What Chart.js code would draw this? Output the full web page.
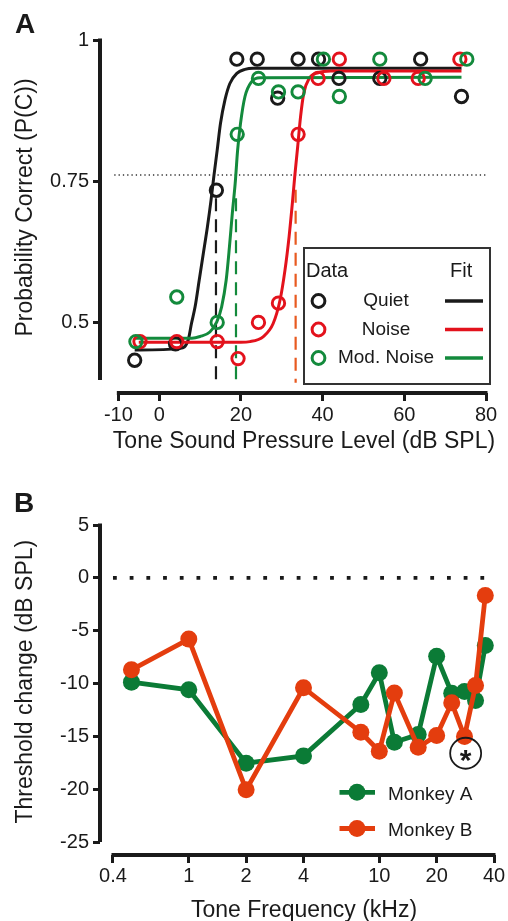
<!DOCTYPE html>
<html lang="en">
<head>
<meta charset="UTF-8">
<title>Tone detection in quiet and noise</title>
<script src="https://cdn.jsdelivr.net/npm/chart.js@4"></script>
<style>
  html, body { margin: 0; padding: 0; background: #fff; }
  #wrap { position: relative; width: 508px; height: 921px; overflow: hidden; }
  canvas { position: absolute; left: 0; }
  #chartA { top: 0; }
  #chartB { top: 460px; }
</style>
</head>
<body>
<div id="wrap">
  <canvas id="chartA" width="508" height="460"></canvas>
  <canvas id="chartB" width="508" height="461"></canvas>
</div>
<script>
// ---------- Panel A: psychometric data (tone level in dB SPL vs P(C)) ----------
const quietX = [-6, 4, 14, 19, 24, 29, 34, 39, 44, 54, 64, 74];
const quietP = [0.433, 0.462, 0.734, 0.966, 0.966, 0.897, 0.966, 0.966, 0.932, 0.932, 0.966, 0.9];
const noiseX = [-4.7, 4.3, 14.2, 19.3, 24.3, 29.2, 34, 38.9, 44.1, 55, 63.4, 73.6];
const noiseP = [0.466, 0.466, 0.466, 0.436, 0.5, 0.534, 0.833, 0.932, 0.966, 0.932, 0.932, 0.966];
const modX = [-5.7, 4.3, 14.2, 19.1, 24.3, 29.2, 34, 40.2, 44.1, 54, 65.1, 75.3];
const modP = [0.466, 0.545, 0.5, 0.833, 0.932, 0.908, 0.908, 0.966, 0.9, 0.966, 0.932, 0.966];

// fitted curves, sampled off the figure
const quietFitX = [-6, 5.1, 7.1, 7.9, 8.8, 9.8, 10.8, 11.8, 12.7, 13.4, 14.2, 15.0, 16.1, 17.3, 19.0, 21.0, 23, 74];
const quietFitP = [0.451, 0.454, 0.469, 0.498, 0.528, 0.575, 0.622, 0.669, 0.717, 0.76, 0.805, 0.852, 0.894, 0.923, 0.941, 0.948, 0.95, 0.95];
const noiseFitX = [-5, 20, 22.2, 25.5, 27.9, 29.6, 30.8, 31.8, 32.6, 33.2, 33.9, 34.6, 35.4, 36.7, 38.9, 42, 74];
const noiseFitP = [0.465, 0.465, 0.466, 0.475, 0.498, 0.54, 0.593, 0.652, 0.711, 0.76, 0.811, 0.864, 0.906, 0.932, 0.942, 0.945, 0.945];
const modFitX = [-6, 8, 10.0, 12.4, 14.1, 15.3, 16.4, 17.2, 17.9, 18.6, 19.2, 19.9, 21.0, 22.6, 24.7, 74];
const modFitP = [0.472, 0.472, 0.475, 0.483, 0.501, 0.528, 0.575, 0.634, 0.693, 0.746, 0.805, 0.852, 0.9, 0.926, 0.933, 0.934];

// thresholds (dashed) and criterion (dotted)
const thresholdX = [13.9, 18.8, 33.4];
const thresholdTop = [0.72, 0.72, 0.735];
const thresholdBottom = 0.393;
const criterionP = 0.761;
const criterionSpan = [-11, 80.2];

const levelTicks = [-10, 0, 20, 40, 60, 80];
const pcTicks = [0.5, 0.75, 1];
const pcLabels = ['0.5', '0.75', '1'];

// ---------- Panel B: threshold change vs tone frequency ----------
const freqs = [0.5, 1, 2, 4, 8, 10, 12, 16, 20, 24, 28, 32, 36];
const monkeyA = [-9.87, -10.6, -17.54, -16.85, -11.99, -8.99, -15.56, -14.83, -7.42, -10.92, -10.76, -11.61, -6.41];
const monkeyB = [-8.7, -5.8, -20.06, -10.4, -14.61, -16.41, -10.89, -16.03, -14.92, -11.83, -15.02, -10.19, -1.68];
const starAt = [28.4, -16.6];
const freqTicks = [0.4, 1, 2, 4, 10, 20, 40];
const changeTicks = [-25, -20, -15, -10, -5, 0, 5];

const FONT = "'Liberation Sans', Arial, Helvetica, sans-serif";
const INK = '#1a1a1a';
const BLACK = '#1a1a1a', RED = '#e3121c', GREEN = '#138a3c', DASH_RED = '#e85a20';
const GREEN_B = '#0b7b36', ORANGE_B = '#e43d0e';

Chart.defaults.font.family = FONT;
Chart.defaults.color = INK;

const pts = (xs, ys) => xs.map((x, i) => ({ x: x, y: ys[i] }));

// axis lines that stop at the end ticks, titles and panel letter
const framePlugin = {
  id: 'frame',
  afterDraw(chart, args, o) {
    const ctx = chart.ctx, xs = chart.scales.x, ys = chart.scales.y;
    const ca = chart.chartArea;
    ctx.save();
    ctx.strokeStyle = INK;
    ctx.lineWidth = 4;
    ctx.beginPath();
    ctx.moveTo(ca.left, ys.getPixelForValue(o.yLine[1]) - 1.5);
    ctx.lineTo(ca.left, ys.getPixelForValue(o.yLine[0]));
    ctx.stroke();
    ctx.beginPath();
    ctx.moveTo(xs.getPixelForValue(o.xLine[0]) - 1.5, ca.bottom);
    ctx.lineTo(xs.getPixelForValue(o.xLine[1]) + 1.5, ca.bottom);
    ctx.stroke();

    ctx.fillStyle = INK;
    ctx.font = '23px ' + FONT;
    ctx.textAlign = 'center';
    ctx.textBaseline = 'middle';
    ctx.fillText(o.xTitle, o.xTitleAt[0], o.xTitleAt[1]);
    ctx.save();
    ctx.translate(o.yTitleAt[0], o.yTitleAt[1]);
    ctx.rotate(-Math.PI / 2);
    ctx.fillText(o.yTitle, 0, 0);
    ctx.restore();

    ctx.font = 'bold 28px ' + FONT;
    ctx.textAlign = 'left';
    ctx.textBaseline = 'alphabetic';
    ctx.fillText(o.letter, o.letterAt[0], o.letterAt[1]);
    ctx.restore();
  }
};

function axisStyle(tickLength, padding) {
  return {
    bounds: 'data',
    border: { display: false },
    grid: { drawOnChartArea: false, drawTicks: true, tickLength: tickLength, tickWidth: 3, tickColor: INK, color: INK },
    ticks: { color: INK, font: { size: 20 }, padding: padding, maxRotation: 0, autoSkip: false }
  };
}

// replace generated ticks and keep the requested range
const fixedTicks = (values, min, max) => s => {
  s.ticks = values.map(v => ({ value: v }));
  s.min = min;
  s.max = max;
};

// ---------- Chart A ----------
const legendA = {
  id: 'legendA',
  afterDraw(chart) {
    const ctx = chart.ctx;
    ctx.save();
    ctx.strokeStyle = '#333';
    ctx.lineWidth = 2;
    ctx.strokeRect(304, 248, 186, 136);
    ctx.fillStyle = INK;
    ctx.font = '20px ' + FONT;
    ctx.textBaseline = 'alphabetic';
    ctx.textAlign = 'left';
    ctx.fillText('Data', 306, 277);
    ctx.fillText('Fit', 450, 277);
    const rows = [['Quiet', BLACK, 301], ['Noise', RED, 329.5], ['Mod. Noise', GREEN, 358]];
    ctx.font = '19px ' + FONT;
    ctx.textAlign = 'center';
    ctx.textBaseline = 'middle';
    rows.forEach(([label, col, y]) => {
      ctx.strokeStyle = col;
      ctx.lineWidth = 3;
      ctx.beginPath();
      ctx.arc(318.5, y, 6.4, 0, Math.PI * 2);
      ctx.stroke();
      ctx.lineWidth = 3.3;
      ctx.beginPath();
      ctx.moveTo(445, y);
      ctx.lineTo(483, y);
      ctx.stroke();
      ctx.fillStyle = INK;
      ctx.fillText(label, 386, y);
    });
    ctx.restore();
  }
};

const circleStyle = (col, order) => ({
  showLine: false, pointRadius: 6.2, pointHoverRadius: 6.2, pointBorderWidth: 2.9,
  pointBorderColor: col, pointBackgroundColor: 'rgba(0,0,0,0)', borderColor: col, order: order
});
const fitStyle = (col, order) => ({
  showLine: true, pointRadius: 0, borderColor: col, borderWidth: 3, cubicInterpolationMode: 'monotone', order: order
});
const dashStyle = (col) => ({
  showLine: true, pointRadius: 0, borderColor: col, borderWidth: 2.2, borderDash: [13, 8], order: 10
});

const dashColors = [BLACK, GREEN, DASH_RED];

const chartA = new Chart(document.getElementById('chartA'), {
  type: 'scatter',
  data: {
    datasets: [
      Object.assign({ label: 'criterion', data: pts(criterionSpan, [criterionP, criterionP]) },
        { showLine: true, pointRadius: 0, borderColor: '#333', borderWidth: 1.3, borderDash: [1.3, 3], order: 11 }),
      ...thresholdX.map((x, i) => Object.assign({ label: 'thr' + i, data: pts([x, x], [thresholdTop[i], thresholdBottom]) }, dashStyle(dashColors[i]))),
      Object.assign({ label: 'Quiet fit', data: pts(quietFitX, quietFitP) }, fitStyle(BLACK, 6)),
      Object.assign({ label: 'Noise fit', data: pts(noiseFitX, noiseFitP) }, fitStyle(RED, 5)),
      Object.assign({ label: 'Mod. Noise fit', data: pts(modFitX, modFitP) }, fitStyle(GREEN, 4)),
      Object.assign({ label: 'Quiet', data: pts(quietX, quietP) }, circleStyle(BLACK, 3)),
      Object.assign({ label: 'Noise', data: pts(noiseX, noiseP) }, circleStyle(RED, 2)),
      Object.assign({ label: 'Mod. Noise', data: pts(modX, modP) }, circleStyle(GREEN, 1))
    ]
  },
  options: {
    responsive: false,
    animation: false,
    layout: { padding: { top: 40, right: 22, left: 0, bottom: 0 } },
    plugins: {
      legend: { display: false },
      tooltip: { enabled: false },
      frame: {
        yLine: [0.398, 1], xLine: [-10, 80],
        xTitle: 'Tone Sound Pressure Level (dB SPL)', xTitleAt: [304, 442],
        yTitle: 'Probability Correct (P(C))', yTitleAt: [25.5, 207.5],
        letter: 'A', letterAt: [15, 33]
      }
    },
    scales: {
      x: Object.assign(axisStyle(8, 2), {
        type: 'linear', min: -14.49, max: 80,
        afterBuildTicks: fixedTicks(levelTicks, -14.49, 80),
        afterFit: s => { s.height = 67; }
      }),
      y: Object.assign(axisStyle(7, 4), {
        type: 'linear', min: 0.375, max: 1,
        afterBuildTicks: fixedTicks(pcTicks, 0.375, 1),
        afterFit: s => { s.width = 100; }
      })
    }
  },
  plugins: [framePlugin, legendA]
});
chartA.options.scales.y.ticks.callback = (v, i) => pcLabels[i];
chartA.update();

// ---------- Chart B ----------
const extrasB = {
  id: 'extrasB',
  afterDraw(chart) {
    const ctx = chart.ctx, xs = chart.scales.x, ys = chart.scales.y;
    ctx.save();
    // circled asterisk
    const cx = xs.getPixelForValue(starAt[0]), cy = ys.getPixelForValue(starAt[1]);
    ctx.strokeStyle = INK;
    ctx.lineWidth = 1.8;
    ctx.beginPath();
    ctx.arc(cx, cy, 15.5, 0, Math.PI * 2);
    ctx.stroke();
    ctx.fillStyle = INK;
    ctx.font = 'bold 30px ' + FONT;
    ctx.textAlign = 'center';
    ctx.textBaseline = 'alphabetic';
    ctx.fillText('*', cx, cy + 16.5);
    // legend
    const rows = [['Monkey A', GREEN_B, 332.3], ['Monkey B', ORANGE_B, 368.5]];
    ctx.font = '19px ' + FONT;
    ctx.textAlign = 'left';
    ctx.textBaseline = 'middle';
    rows.forEach(([label, col, y]) => {
      ctx.strokeStyle = col;
      ctx.fillStyle = col;
      ctx.lineWidth = 4.8;
      ctx.beginPath();
      ctx.moveTo(339.5, y);
      ctx.lineTo(375, y);
      ctx.stroke();
      ctx.beginPath();
      ctx.arc(357, y, 8.5, 0, Math.PI * 2);
      ctx.fill();
      ctx.fillStyle = INK;
      ctx.fillText(label, 388, y + 2);
    });
    ctx.restore();
  }
};

const seriesStyle = (col, order) => ({
  showLine: true, borderColor: col, backgroundColor: col, borderWidth: 4.8, tension: 0,
  pointRadius: 8.5, pointHoverRadius: 8.5, pointBorderWidth: 0, pointBackgroundColor: col, order: order
});

const chartB = new Chart(document.getElementById('chartB'), {
  type: 'scatter',
  data: {
    datasets: [
      { label: 'zero', data: pts([0.4, 37.5], [0, 0]), showLine: true, pointRadius: 0,
        borderColor: INK, borderWidth: 3.8, borderDash: [3.8, 12.9], borderCapStyle: 'butt', order: 5 },
      Object.assign({ label: 'Monkey A', data: pts(freqs, monkeyA) }, seriesStyle(GREEN_B, 2)),
      Object.assign({ label: 'Monkey B', data: pts(freqs, monkeyB) }, seriesStyle(ORANGE_B, 1))
    ]
  },
  options: {
    responsive: false,
    animation: false,
    layout: { padding: { top: 65, right: 14, left: 0, bottom: 0 } },
    plugins: {
      legend: { display: false },
      tooltip: { enabled: false },
      frame: {
        yLine: [-25, 5], xLine: [0.4, 40],
        xTitle: 'Tone Frequency (kHz)', xTitleAt: [304, 450.2],
        yTitle: 'Threshold change (dB SPL)', yTitleAt: [25.5, 221.7],
        letter: 'B', letterAt: [14, 52]
      }
    },
    scales: {
      x: Object.assign(axisStyle(8, 1.7), {
        type: 'logarithmic', min: 0.3419, max: 40,
        afterBuildTicks: fixedTicks(freqTicks, 0.3419, 40),
        afterFit: s => { s.height = 66; }
      }),
      y: Object.assign(axisStyle(7, 4), {
        type: 'linear', min: -26.23, max: 5,
        afterBuildTicks: fixedTicks(changeTicks, -26.23, 5),
        afterFit: s => { s.width = 100; }
      })
    }
  },
  plugins: [framePlugin, extrasB]
});
chartB.options.scales.x.ticks.callback = (v, i) => String(freqTicks[i]);
chartB.options.scales.y.ticks.callback = (v, i) => String(changeTicks[i]);
chartB.update();
</script>
</body>
</html>
